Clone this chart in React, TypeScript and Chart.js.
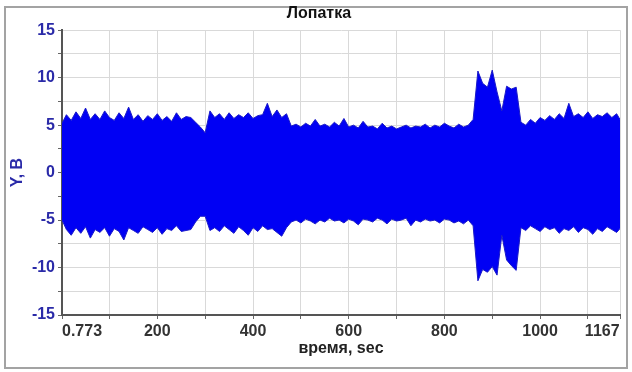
import React, { useEffect, useRef } from "react";
import { Chart, registerables } from "chart.js";

Chart.register(...registerables);

const TITLE = "Лопатка";
const X_TITLE = "время, sec";
const Y_TITLE = "Y, B";

const TIME_SEC = [
  0.773, 10, 20, 30, 40, 50, 60, 70, 80, 90,
  100, 110, 120, 130, 140, 150, 160, 170, 180, 190,
  200, 210, 220, 230, 240, 250, 260, 270, 280, 290,
  300, 310, 320, 330, 340, 350, 360, 370, 380, 390,
  400, 410, 420, 430, 440, 450, 460, 470, 480, 490,
  500, 510, 520, 530, 540, 550, 560, 570, 580, 590,
  600, 610, 620, 630, 640, 650, 660, 670, 680, 690,
  700, 710, 720, 730, 740, 750, 760, 770, 780, 790,
  800, 810, 820, 830, 840, 850, 860, 870, 880, 890,
  900, 910, 920, 930, 940, 950, 960, 970, 980, 990,
  1000, 1010, 1020, 1030, 1040, 1050, 1060, 1070, 1080, 1090,
  1100, 1110, 1120, 1130, 1140, 1150, 1160, 1167,
];

// upper envelope of the signal, V
const UPPER = [
  5.2, 6.1, 5.5, 6.4, 5.7, 6.8, 5.6, 6.2, 5.6, 6.5,
  5.8, 5.5, 6.3, 5.7, 6.9, 5.6, 6.1, 5.4, 6.0, 5.6,
  6.2, 5.5, 5.9, 5.4, 6.3, 5.6, 5.9, 5.8, 5.3, 4.8,
  4.2, 6.5, 5.8, 6.2, 5.6, 6.3, 5.7, 6.1, 5.8, 6.3,
  5.7, 6.0, 6.1, 7.3, 5.9, 6.6, 5.8, 6.2, 4.9, 5.1,
  4.8, 5.2, 4.9, 5.6, 4.9, 5.1, 4.8, 5.3, 4.9, 5.7,
  4.8, 5.0, 4.7, 5.4, 4.8, 4.9, 4.6, 5.2, 4.7, 4.9,
  4.6, 4.8, 5.0, 4.7, 4.9, 4.8, 5.1, 4.7, 5.0, 4.8,
  5.2, 4.9, 4.7, 5.1, 4.8, 5.0, 5.6, 10.7, 9.4, 9.0,
  10.8, 8.5, 6.5, 9.1, 8.8, 9.0, 5.3, 5.0, 5.6, 5.2,
  5.8, 5.5, 6.0, 5.6, 6.2, 5.7, 7.3, 5.9, 6.2, 5.8,
  6.4, 5.7, 6.1, 5.9, 6.3, 5.8, 6.2, 5.6,
];

// lower envelope of the signal, V
const LOWER = [
  -5.0, -6.0, -6.6, -5.8, -6.4, -5.7, -6.9, -6.0, -6.3, -5.8,
  -6.7, -5.9, -6.2, -7.1, -5.8, -6.1, -6.4, -5.7, -6.0, -6.3,
  -5.8, -6.5, -5.9, -6.1, -5.6, -6.2, -6.1, -6.0, -5.2, -4.6,
  -4.6, -6.1, -5.8, -6.2, -5.6, -6.0, -6.4, -5.7, -6.1, -6.6,
  -5.8, -6.2, -5.6, -6.0, -5.9, -6.3, -6.7, -5.8, -5.2, -5.0,
  -5.3, -4.9, -5.1, -5.4, -5.0, -5.2, -4.8, -5.1, -5.0, -5.3,
  -4.9, -5.1, -5.5, -4.9, -5.0, -5.2, -4.8, -5.0, -5.4, -4.9,
  -5.1, -5.0, -4.8, -5.6, -5.0, -5.2, -4.9, -5.1, -5.0, -5.3,
  -4.9, -5.0, -5.3, -5.1, -5.4, -5.0, -5.6, -11.4, -10.2, -10.5,
  -9.9, -10.8, -6.6, -9.2, -9.8, -10.3, -5.8, -6.1, -5.6, -5.9,
  -6.2, -5.7, -6.0, -5.8, -6.4, -5.9, -6.1, -5.7, -6.3, -5.8,
  -6.0, -6.5, -5.9, -6.2, -5.7, -6.0, -6.3, -5.9,
];

const X_MIN = 0.773;
const X_MAX = 1167;
const X_GRID_TICKS = [0.773, 100, 200, 300, 400, 500, 600, 700, 800, 900, 1000, 1100, 1167];
const X_LABELED = [0.773, 200, 400, 600, 800, 1000, 1167];
const Y_MIN = -15;
const Y_MAX = 15;
const Y_STEP = 2.5;
const Y_LABEL_STEP = 5;

const BLUE = "#0000f4";
const LABEL_BLUE = "#2a2aa8";
const FONT = "'Liberation Sans', Arial, sans-serif";

export default function App() {
  const ref = useRef<HTMLCanvasElement | null>(null);

  useEffect(() => {
    if (!ref.current) return;
    const upper = TIME_SEC.map((t, i) => ({ x: t, y: UPPER[i] }));
    const lower = TIME_SEC.map((t, i) => ({ x: t, y: LOWER[i] }));
    const chart = new Chart(ref.current, {
      type: "line",
      data: {
        datasets: [
          {
            data: upper,
            borderColor: "#1a1ac8",
            borderWidth: 1,
            pointRadius: 0,
            fill: false,
            tension: 0,
          },
          {
            data: lower,
            borderColor: "#1a1ac8",
            borderWidth: 1,
            pointRadius: 0,
            fill: "-1",
            backgroundColor: BLUE,
            tension: 0,
          },
        ],
      },
      options: {
        animation: false,
        responsive: false,
        layout: { padding: { left: 0, right: 12, top: 0, bottom: 0 } },
        plugins: {
          legend: { display: false },
          tooltip: { enabled: false },
          title: {
            display: true,
            text: "    " + TITLE,
            color: "#111",
            font: { family: FONT, size: 16, weight: "bold" },
            padding: { top: 4, bottom: 7 },
          },
        },
        scales: {
          x: {
            type: "linear",
            min: X_MIN,
            max: X_MAX,
            afterBuildTicks: (scale: any) => {
              scale.ticks = X_GRID_TICKS.map((v) => ({ value: v }));
            },
            afterFit: (scale: any) => {
              scale.height = 57;
              scale.paddingLeft = 0;
              scale.paddingRight = 0;
            },
            ticks: {
              autoSkip: false,
              maxRotation: 0,
              minRotation: 0,
              padding: 3,
              color: "#333",
              font: { family: FONT, size: 16, weight: "bold" },
              callback: (v: any) => {
                const n = Number(v);
                if (!X_LABELED.includes(n)) return "";
                if (n === X_MIN) return "         " + String(n);
                if (n === X_MAX) return String(n) + "        ";
                return String(n);
              },
            },
            grid: { color: "#d9d9d9", lineWidth: 1, tickLength: 4, tickColor: "#666" },
            border: { color: "#555", width: 2 },
            title: {
              display: true,
              text: X_TITLE,
              color: "#222",
              font: { family: FONT, size: 16, weight: "bold" },
              padding: { top: 0, bottom: 14 },
            },
          },
          y: {
            type: "linear",
            min: Y_MIN,
            max: Y_MAX,
            afterFit: (scale: any) => {
              scale.width = 62;
            },
            ticks: {
              stepSize: Y_STEP,
              autoSkip: false,
              padding: 3,
              color: LABEL_BLUE,
              font: { family: FONT, size: 16, weight: "bold" },
              callback: (v: any) => {
                const n = Number(v);
                return n % Y_LABEL_STEP === 0 ? String(n) : "";
              },
            },
            grid: { color: "#d9d9d9", lineWidth: 1, tickLength: 4, tickColor: "#666" },
            border: { color: "#555", width: 2 },
            title: {
              display: true,
              text: Y_TITLE,
              color: LABEL_BLUE,
              font: { family: FONT, size: 16, weight: "bold" },
              padding: { top: 8, bottom: 0 },
            },
          },
        },
      },
    });
    return () => chart.destroy();
  }, []);

  return (
    <div style={{ position: "fixed", left: 0, top: 0, width: 632, height: 372, background: "#fff" }}>
      <div
        style={{
          position: "absolute",
          left: 4,
          top: 6,
          width: 620,
          height: 359,
          border: "2px solid #a3a3a3",
        }}
      />
      <canvas
        ref={ref}
        width={632}
        height={372}
        style={{ position: "absolute", left: 0, top: 0, width: 632, height: 372 }}
      />
    </div>
  );
}
